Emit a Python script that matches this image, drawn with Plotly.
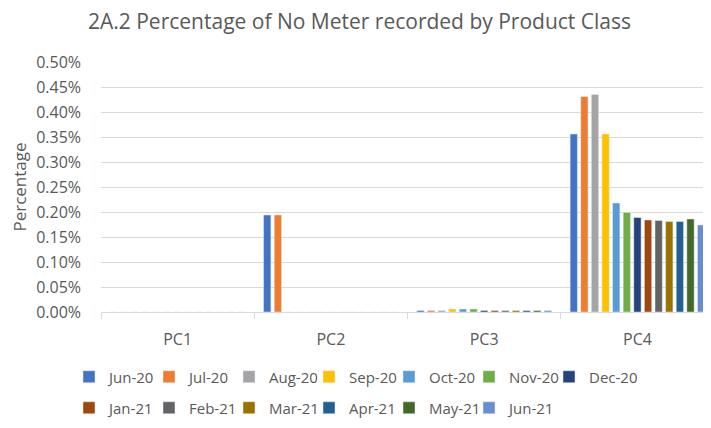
import plotly.graph_objects as go

categories = ["PC1", "PC2", "PC3", "PC4"]
months = ["Jun-20", "Jul-20", "Aug-20", "Sep-20", "Oct-20", "Nov-20", "Dec-20",
          "Jan-21", "Feb-21", "Mar-21", "Apr-21", "May-21", "Jun-21"]
colors = ["#4472C4", "#ED7D31", "#A5A5A5", "#FFC000", "#5B9BD5", "#70AD47", "#264478",
          "#9E480E", "#636363", "#997300", "#255E91", "#43682B", "#698ED0"]

# values in percent, one list per product class (month order)
pc1 = [0, 0, 0, 0, 0, 0, 0, 0, 0, 0, 0, 0, 0]
pc2 = [0.194, 0.194, 0, 0, 0, 0, 0, 0, 0, 0, 0, 0, 0]
pc3 = [0.003, 0.003, 0.003, 0.006, 0.006, 0.006, 0.003, 0.003, 0.003, 0.003, 0.003, 0.003, 0.003]
pc4 = [0.356, 0.431, 0.435, 0.356, 0.218, 0.199, 0.189, 0.184, 0.183, 0.181, 0.181, 0.186, 0.174]

y_ticks = [0, 0.05, 0.10, 0.15, 0.20, 0.25, 0.30, 0.35, 0.40, 0.45, 0.50]

gray = "#595959"
grid = "#D9D9D9"
font = "Open Sans"

W, H = 703, 420  # page body has an 8px margin
L, T, B = 93, 54, 116
PW, PH = W - L, H - T - B

fig = go.Figure()
for i, m in enumerate(months):
    vals = [pc1[i] / 100, pc2[i] / 100, pc3[i] / 100, pc4[i] / 100]
    fig.add_trace(go.Bar(
        x=categories, y=vals, name=m, marker_color=colors[i],
        legend="legend" if i < 7 else "legend2",
    ))

# invisible spacer entries so the last legend item of each row is not clipped
for lg in ["legend", "legend2"]:
    fig.add_trace(go.Scatter(
        x=[None], y=[None], mode="markers", name=" ",
        marker=dict(color="rgba(0,0,0,0)", size=1),
        hoverinfo="skip", showlegend=True, legend=lg,
    ))

legend_common = dict(
    orientation="h", xref="paper", yref="paper",
    xanchor="left", yanchor="middle",
    font=dict(family=font, size=15, color=gray),
    entrywidth=35, entrywidthmode="pixels", itemwidth=30,
    bgcolor="rgba(0,0,0,0)", tracegroupgap=0,
)
leg_x = (61 - L) / PW

fig.update_layout(
    width=W, height=H,
    margin=dict(l=L, r=0, t=T, b=B, autoexpand=False),
    paper_bgcolor="white", plot_bgcolor="white",
    barmode="group", bargap=0.10, bargroupgap=0.31,
    title=dict(text="2A.2 Percentage of No Meter recorded by Product Class",
               x=0.5, xref="container", xanchor="center",
               y=1 - 14 / H, yref="container", yanchor="middle",
               font=dict(family=font, size=21, color=gray)),
    legend=dict(x=leg_x, y=(T + PH - 369) / PH, **legend_common),
    legend2=dict(x=leg_x, y=(T + PH - 400) / PH, **legend_common),
    xaxis=dict(
        range=[-0.5, 3.48],
        showline=True, linecolor=grid, linewidth=1,
        ticks="outside", tickson="boundaries", ticklen=6, tickcolor=grid,
        ticklabelstandoff=13,
        tickfont=dict(family=font, size=16, color=gray),
        showgrid=False,
    ),
    yaxis=dict(
        range=[0, 0.005], tickvals=[v / 100 for v in y_ticks], tickformat=".2%",
        showgrid=True, gridcolor=grid, gridwidth=1, zeroline=False,
        ticklabelstandoff=19,
        tickfont=dict(family=font, size=16, color=gray),
        title=dict(text="Percentage", standoff=6,
                   font=dict(family=font, size=17, color=gray)),
    ),
)

fig.write_html("out.html")
